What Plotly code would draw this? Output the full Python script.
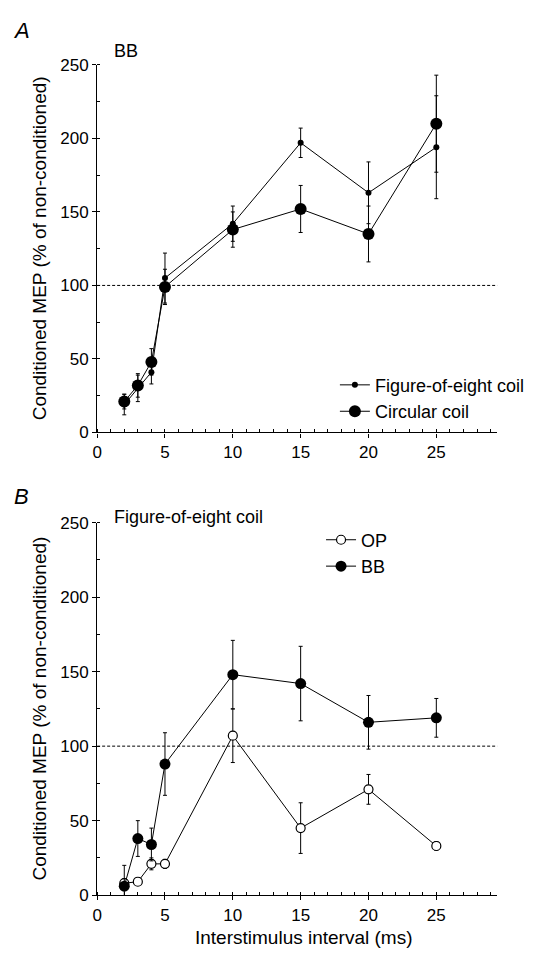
import plotly.graph_objects as go

# ---- data ----
ISI = [2, 3, 4, 5, 10, 15, 20, 25]

A_fig8 = [19, 30, 41, 105, 142, 197, 163, 194]
A_fig8_err = [7, 9, 8, 17, 12, 10, 21, 35]
A_circ = [21, 32, 48, 99, 138, 152, 135, 210]
A_circ_err = [5, 8, 9, 12, 12, 16, 19, 33]

B_OP = [8, 9, 21, 21, 107, 45, 71, 33]
B_OP_err = [3, 2, 4, 3, 18, 17, 10, 3]
B_BB = [6, 38, 34, 88, 148, 142, 116, 119]
B_BB_err = [14, 12, 11, 21, 23, 25, 18, 13]

X_TICKS = [0, 5, 10, 15, 20, 25]
Y_TICKS = [0, 50, 100, 150, 200, 250]
REF_LEVEL = 100

W, H = 538, 962
FONT = "Liberation Sans, Arial, Helvetica, sans-serif"


def px(v):
    return 1 - v / H


def err(vals):
    return dict(type="data", array=vals, visible=True, color="black", thickness=1, width=2)


fig = go.Figure()

fig.add_trace(go.Scatter(
    x=ISI, y=A_fig8, error_y=err(A_fig8_err), name="Figure-of-eight coil",
    mode="lines+markers", line=dict(color="black", width=1),
    marker=dict(color="black", size=6), xaxis="x", yaxis="y", legend="legend"))
fig.add_trace(go.Scatter(
    x=ISI, y=A_circ, error_y=err(A_circ_err), name="Circular coil",
    mode="lines+markers", line=dict(color="black", width=1),
    marker=dict(color="black", size=12), xaxis="x", yaxis="y", legend="legend"))

fig.add_trace(go.Scatter(
    x=ISI, y=B_OP, error_y=err(B_OP_err), name="OP",
    mode="lines+markers", line=dict(color="black", width=1),
    marker=dict(color="white", size=9, line=dict(color="black", width=1.2)),
    xaxis="x2", yaxis="y2", legend="legend2"))
fig.add_trace(go.Scatter(
    x=ISI, y=B_BB, error_y=err(B_BB_err), name="BB",
    mode="lines+markers", line=dict(color="black", width=1),
    marker=dict(color="black", size=11), xaxis="x2", yaxis="y2", legend="legend2"))

xdom = [93 / W, 497 / W]
XR = [0, 29.5]


def xax(anchor):
    return dict(domain=xdom, range=XR, anchor=anchor, tickvals=X_TICKS,
                showline=True, linecolor="black", linewidth=1.2,
                ticks="outside", ticklen=4, tickcolor="black", tickwidth=1,
                minor=dict(dtick=1, ticks="inside", ticklen=3, tickcolor="black", tickwidth=1),
                showgrid=False, zeroline=False,
                tickfont=dict(family=FONT, size=17, color="black"))


def yax(anchor, top, bottom):
    return dict(domain=[px(bottom), px(top)], range=[0, 250], anchor=anchor, tickvals=Y_TICKS,
                showline=True, linecolor="black", linewidth=1.2,
                ticks="outside", ticklen=4, tickcolor="black", tickwidth=1,
                minor=dict(dtick=25, ticks="inside", ticklen=3, tickcolor="black", tickwidth=1),
                showgrid=False, zeroline=False,
                tickfont=dict(family=FONT, size=17, color="black"))


A_TOP, A_BOT = 57, 432
B_TOP, B_BOT = 524, 904

shapes = []
for xr, yr in (("x", "y"), ("x2", "y2")):
    shapes.append(dict(type="line", xref=xr, yref=yr, x0=0, x1=XR[1], y0=REF_LEVEL, y1=REF_LEVEL,
                       line=dict(color="black", width=1, dash="3px,2px")))

ytitle = "Conditioned MEP (% of non-conditioned)"
annotations = [
    dict(text="<i>A</i>", x=17 / W, y=px(22), font=dict(size=22)),
    dict(text="<i>B</i>", x=17 / W, y=px(497), font=dict(size=22)),
    dict(text="BB", x=108 / W, y=px(43), xanchor="left", font=dict(size=18)),
    dict(text="Figure-of-eight coil", x=108 / W, y=px(518), xanchor="left", font=dict(size=18)),
    dict(text=ytitle, x=35 / W, y=px((A_TOP + A_BOT) / 2), textangle=-90, font=dict(size=19)),
    dict(text=ytitle, x=35 / W, y=px((B_TOP + B_BOT) / 2), textangle=-90, font=dict(size=19)),
    dict(text="Interstimulus interval (ms)", x=302 / W, y=px(947), font=dict(size=19)),
]
for a in annotations:
    a.setdefault("xanchor", "center")
    a.update(xref="paper", yref="paper", yanchor="middle", showarrow=False)
    a["font"].update(family=FONT, color="black")

fig.update_layout(
    width=W, height=H, margin=dict(l=0, r=0, t=0, b=0),
    paper_bgcolor="white", plot_bgcolor="white",
    font=dict(family=FONT, color="black"),
    xaxis=xax("y"), yaxis=yax("x", A_TOP, A_BOT),
    xaxis2=xax("y2"), yaxis2=yax("x2", B_TOP, B_BOT),
    shapes=shapes, annotations=annotations,
    legend=dict(x=333 / W, y=px(397), xanchor="left", yanchor="middle",
                font=dict(family=FONT, size=18, color="black"),
                bgcolor="rgba(0,0,0,0)", tracegroupgap=0),
    legend2=dict(x=319 / W, y=px(555), xanchor="left", yanchor="middle",
                 font=dict(family=FONT, size=18, color="black"),
                 bgcolor="rgba(0,0,0,0)", tracegroupgap=0),
    showlegend=True,
)

fig.write_html("out.html")
